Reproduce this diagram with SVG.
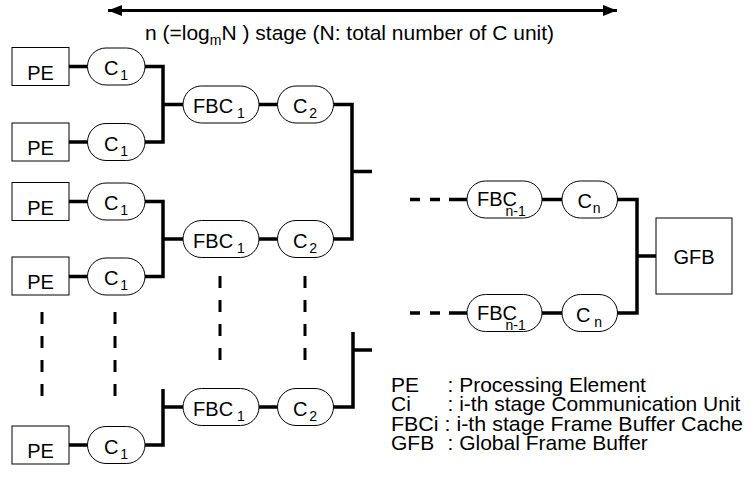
<svg xmlns="http://www.w3.org/2000/svg" width="750" height="480" viewBox="0 0 750 480">
<style>
text{font-family:"Liberation Sans",Arial,sans-serif;fill:#000}
.lbl{font-size:20px;text-anchor:middle}
.sub{font-size:14px}
.box{fill:#fff;stroke:#000;stroke-width:1}
.conn{fill:none;stroke:#000;stroke-width:3.5;stroke-linejoin:miter;stroke-linecap:butt}
.dash{fill:none;stroke:#000;stroke-width:3;stroke-dasharray:12 12}
.leg{font-size:21px}
</style>
<defs>
<marker id="ah" markerUnits="userSpaceOnUse" markerWidth="16" markerHeight="12" refX="14" refY="6" orient="auto-start-reverse">
<path d="M0,0.5 L14,6 L0,11.5 Z" fill="#000"/>
</marker>
</defs>
<g id="stage-arrow">
<line x1="108" y1="10.5" x2="617" y2="10.5" stroke="#000" stroke-width="3" marker-start="url(#ah)" marker-end="url(#ah)"/>
<text x="145" y="40" font-size="21">n (=log<tspan class="sub" dy="5">m</tspan><tspan dy="-5">N ) stage (N: total number of C unit)</tspan></text>
</g>
<g id="connectors">
<path class="conn" d="M69,66.5H87.5M69,142H87.5M69,201.5H87.5M69,276.5H87.5M69,445H87.5"/>
<path class="conn" d="M145,66.5H163V142H145M163,104.5H183"/>
<path class="conn" d="M145,201.5H163V276.5H145M163,239H183"/>
<path class="conn" d="M163,389V445H145M163,407H183"/>
<path class="conn" d="M259,104.5H277.5M259,239H277.5M259,407H277.5"/>
<path class="conn" d="M333.5,104.5H352V239H333.5M352,171.5H372"/>
<path class="conn" d="M333.5,407H353V332M353,350H372"/>
<path class="conn" d="M410,199.5H420M430,199.5H440M449,199.5H467M410,313H420M430,313H440M449,313H467"/>
<path class="conn" d="M542,199.5H562M542,313H562"/>
<path class="conn" d="M617,199.5H637V313H617M637,256H656"/>
<path class="dash" d="M42,312V398M115,312V398M220,276V360M305,276V360"/>
</g>
<g id="pe1"><rect class="box" x="12" y="47.5" width="57" height="38"/><text class="lbl" x="40.5" y="79.5">PE</text></g>
<g id="pe2"><rect class="box" x="12" y="123" width="57" height="38"/><text class="lbl" x="40.5" y="155">PE</text></g>
<g id="pe3"><rect class="box" x="12" y="182.5" width="57" height="38"/><text class="lbl" x="40.5" y="214.5">PE</text></g>
<g id="pe4"><rect class="box" x="12" y="257" width="57" height="38"/><text class="lbl" x="40.5" y="289">PE</text></g>
<g id="pe5"><rect class="box" x="12" y="426" width="57" height="38"/><text class="lbl" x="40.5" y="458">PE</text></g>
<g id="c1a"><rect class="box" x="87.5" y="48" width="57.5" height="37" rx="18.5"/><text class="lbl" x="116" y="75">C<tspan class="sub" dx="2" dy="5">1</tspan></text></g>
<g id="c1b"><rect class="box" x="87.5" y="123.5" width="57.5" height="37" rx="18.5"/><text class="lbl" x="116" y="150.5">C<tspan class="sub" dx="2" dy="5">1</tspan></text></g>
<g id="c1c"><rect class="box" x="87.5" y="183" width="57.5" height="37" rx="18.5"/><text class="lbl" x="116" y="210">C<tspan class="sub" dx="2" dy="5">1</tspan></text></g>
<g id="c1d"><rect class="box" x="87.5" y="258" width="57.5" height="37" rx="18.5"/><text class="lbl" x="116" y="285">C<tspan class="sub" dx="2" dy="5">1</tspan></text></g>
<g id="c1e"><rect class="box" x="87.5" y="426.5" width="57.5" height="37" rx="18.5"/><text class="lbl" x="116" y="453.5">C<tspan class="sub" dx="2" dy="5">1</tspan></text></g>
<g id="fbc1a"><rect class="box" x="183" y="86" width="76" height="37" rx="18.5"/><text class="lbl" x="219" y="113">FBC<tspan class="sub" dx="4" dy="5">1</tspan></text></g>
<g id="fbc1b"><rect class="box" x="183" y="220.5" width="76" height="37" rx="18.5"/><text class="lbl" x="219" y="247.5">FBC<tspan class="sub" dx="4" dy="5">1</tspan></text></g>
<g id="fbc1c"><rect class="box" x="183" y="388.5" width="76" height="37" rx="18.5"/><text class="lbl" x="219" y="415.5">FBC<tspan class="sub" dx="4" dy="5">1</tspan></text></g>
<g id="c2a"><rect class="box" x="277.5" y="86" width="56" height="37" rx="18.5"/><text class="lbl" x="305" y="113">C<tspan class="sub" dx="2" dy="5">2</tspan></text></g>
<g id="c2b"><rect class="box" x="277.5" y="220.5" width="56" height="37" rx="18.5"/><text class="lbl" x="305" y="247.5">C<tspan class="sub" dx="2" dy="5">2</tspan></text></g>
<g id="c2c"><rect class="box" x="277.5" y="388.5" width="56" height="37" rx="18.5"/><text class="lbl" x="305" y="415.5">C<tspan class="sub" dx="2" dy="5">2</tspan></text></g>
<g id="fbcn1a"><rect class="box" x="467" y="181" width="75" height="37" rx="18.5"/><text x="477" y="206" font-size="20">FBC<tspan class="sub" x="505.5" dy="10">n-1</tspan></text></g>
<g id="fbcn1b"><rect class="box" x="467" y="294.5" width="75" height="37" rx="18.5"/><text x="477" y="319.5" font-size="20">FBC<tspan class="sub" x="505.5" dy="10">n-1</tspan></text></g>
<g id="cna"><rect class="box" x="562" y="181" width="55.5" height="37" rx="18.5"/><text class="lbl" x="589" y="208">C<tspan class="sub" dx="1" dy="5">n</tspan></text></g>
<g id="cnb"><rect class="box" x="562" y="294.5" width="55.5" height="37" rx="18.5"/><text class="lbl" x="589" y="321.5">C<tspan class="sub" dx="4" dy="5">n</tspan></text></g>
<g id="gfb"><rect class="box" x="656" y="218" width="76" height="76"/><text class="lbl" x="694" y="264">GFB</text></g>
<g id="legend">
<text class="leg"><tspan x="391" y="391.5">PE</tspan><tspan x="447.5" y="391.5">: Processing Element</tspan><tspan x="391" y="411">Ci</tspan><tspan x="447.5" y="411">: i-th stage Communication Unit</tspan><tspan x="391" y="430.5" textLength="352" lengthAdjust="spacingAndGlyphs">FBCi : i-th stage Frame Buffer Cache</tspan><tspan x="391" y="450">GFB</tspan><tspan x="447.5" y="450">: Global Frame Buffer</tspan></text>
</g>
</svg>
